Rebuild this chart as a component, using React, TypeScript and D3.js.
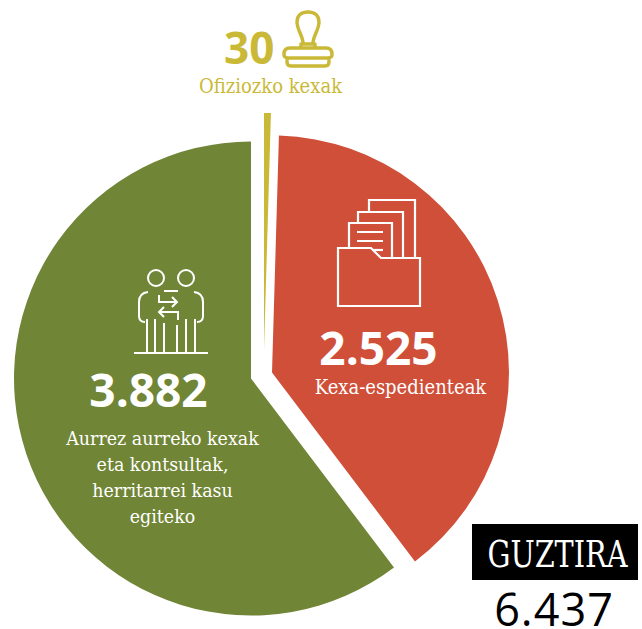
import * as d3 from "d3";
import React from "react";

const width = 642;
const height = 629;

// data
const categories = ["Ofiziozko kexak", "Kexa-espedienteak", "Aurrez aurreko kexak"];
const values = [30, 2525, 3882];
const colors = ["#c9b937", "#d04f39", "#708536"];
const greenLabel = ["Aurrez aurreko kexak", "eta kontsultak,", "herritarrei kasu", "egiteko"];
const totalLabel = "GUZTIRA";

// exploded slices: each one has its own centre
const centers = [
  [264, 350],
  [272, 372.5],
  [251, 378.5],
];
const radius = 237;

const numberFont = "'Open Sans', sans-serif";
const slabFont = "'DejaVu Serif Condensed', 'DejaVu Serif', serif";

const fmt = d3.formatLocale({
  decimal: ",",
  thousands: ".",
  grouping: [3],
  currency: ["", ""],
}).format(",d");

const pie = d3.pie<number>().sort(null).startAngle(0).endAngle(2 * Math.PI);
const arc = d3.arc<d3.PieArcDatum<number>>().innerRadius(0).outerRadius(radius);

function StampIcon() {
  return (
    <g fill="none" stroke={colors[0]} strokeWidth={3.4} strokeLinejoin="round">
      <path d="M303,43 C303,36 297,30 297,22 C297,15 302,12 308,12 C314,12 319,15 319,22 C319,30 313,36 313,43" />
      <path d="M301,48 L301,44 L315,44 L315,48" />
      <path d="M290,48 L326,48 Q332,48 332,54 L332,55 Q332,57 329,58 L329,62 Q329,66 325,66 L291,66 Q287,66 287,62 L287,58 Q284,57 284,55 L284,54 Q284,48 290,48 Z" />
      <path d="M287,58 L329,58" />
    </g>
  );
}

function FolderIcon() {
  return (
    <g fill="none" stroke="#fff" strokeWidth={2.2} strokeLinejoin="miter">
      <path d="M338,248 L371,248 L381,258 L420,258 L420,306 L338,306 Z" />
      <path d="M349,248 L349,223 L392,223 L392,258" />
      <path d="M358,223 L358,212 L403,212 L403,258" />
      <path d="M369,212 L369,200 L415,200 L415,258" />
      <path d="M373,250 L383,250" />
      <path d="M357,232 L383,232 M357,241 L383,241" />
    </g>
  );
}

function PeopleIcon() {
  return (
    <g fill="none" stroke="#fff" strokeWidth={2}>
      <circle cx={156} cy={278} r={8} />
      <circle cx={186} cy={278} r={8} />
      <path d="M134,353 L208,353" />
      <path d="M148,292 Q139,293 139,302 L139,316 Q139,322 145,322" />
      <path d="M194,292 Q203,293 203,302 L203,316 Q203,322 197,322" />
      <path d="M147,319 L147,353 M155,319 L155,353 M164,323 L164,353 M177,325 L177,353 M186,319 L186,353 M195,319 L195,353" />
      <path d="M164,291 L178,291" />
      <path d="M159,295 L159,302 L177,302 M172,297 L177,302 L172,307" />
      <path d="M178,320 L178,312 L159,312 M164,307 L159,312 L164,317" />
    </g>
  );
}

export default function App() {
  const slices = pie(values);
  const total = d3.sum(values);

  return (
    <svg
      width={width}
      height={height}
      style={{ position: "absolute", left: 0, top: 0, display: "block", background: "#fff" }}
    >
      {slices.map((s, i) => (
        <path
          key={categories[i]}
          d={arc(s) as string}
          fill={colors[i]}
          transform={`translate(${centers[i][0]},${centers[i][1]})`}
        />
      ))}

      <StampIcon />
      <FolderIcon />
      <PeopleIcon />

      <text x={224} y={64} fontFamily={numberFont} fontWeight={700} fontSize={44} fill={colors[0]}>
        {fmt(values[0])}
      </text>
      <text x={270.5} y={93} textAnchor="middle" fontFamily={slabFont} fontSize={20} fill={colors[0]}>
        {categories[0]}
      </text>

      <text x={378.5} y={365} textAnchor="middle" fontFamily={numberFont} fontWeight={700} fontSize={46} fill="#fff">
        {fmt(values[1])}
      </text>
      <text x={400.5} y={394} textAnchor="middle" fontFamily={slabFont} fontSize={20} fill="#fff">
        {categories[1]}
      </text>

      <text x={148.5} y={407} textAnchor="middle" fontFamily={numberFont} fontWeight={700} fontSize={46} fill="#fff">
        {fmt(values[2])}
      </text>
      {greenLabel.map((line, i) => (
        <text key={line} x={162.5} y={445 + i * 26} textAnchor="middle" fontFamily={slabFont} fontSize={19.4} fill="#fff">
          {line}
        </text>
      ))}

      <rect x={472} y={524} width={166} height={56} fill="#000" />
      <text
        transform="translate(557.5,567) scale(0.84,1)"
        textAnchor="middle"
        fontFamily={slabFont}
        fontSize={38}
        fill="#fff"
      >
        {totalLabel}
      </text>
      <text x={554} y={626} textAnchor="middle" fontFamily={numberFont} fontSize={45} letterSpacing={1} fill="#000">
        {fmt(total)}
      </text>
    </svg>
  );
}
